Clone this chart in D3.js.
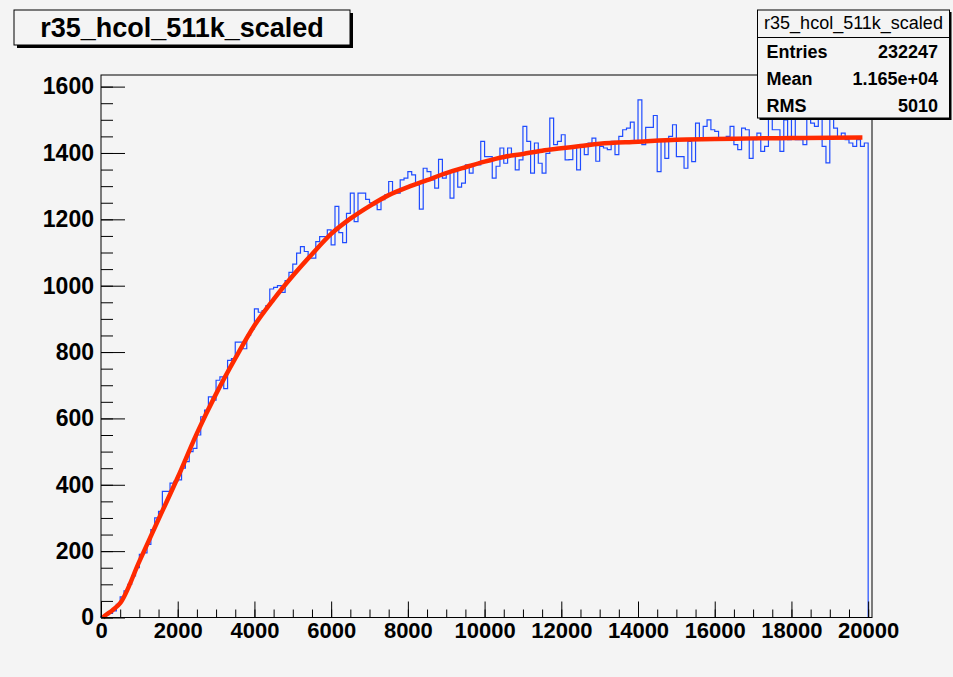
<!DOCTYPE html>
<html>
<head>
<meta charset="utf-8">
<script src="https://cdn.jsdelivr.net/npm/d3@7/dist/d3.min.js"></script>
<style>
  html, body { margin: 0; padding: 0; background: #f4f4f4; }
  svg { display: block; }
  text { font-family: "Liberation Sans", Arial, Helvetica, sans-serif; }
</style>
</head>
<body>
<svg id="chart" width="953" height="677"></svg>
<script>
// ---------------- data ----------------
const histTitle = "r35_hcol_511k_scaled";
const binLow = 0;
const binWidth = 100;
// bin contents (201 bins, 0..20100)
const counts = [
  3, 8, 12, 20, 40, 62, 80, 100, 125, 150,
  190, 195, 220, 265, 300, 320, 380, 380, 405, 410,
  415, 450, 470, 500, 510, 550, 605, 625, 665, 655,
  715, 725, 690, 775, 780, 830, 830, 810, 850, 870,
  930, 920, 925, 940, 990, 995, 1000, 980, 1015, 1040,
  1065, 1098, 1118, 1103, 1083, 1083, 1133, 1148, 1148, 1168,
  1123, 1239, 1160, 1130, 1218, 1279, 1193, 1279, 1279, 1260,
  1250, 1244, 1229, 1259, 1274, 1314, 1279, 1279, 1319, 1324,
  1344, 1334, 1304, 1231, 1354, 1344, 1319, 1294, 1381, 1324,
  1344, 1264, 1344, 1297, 1309, 1364, 1339, 1364, 1364, 1435,
  1389, 1389, 1324, 1360, 1415, 1369, 1415, 1390, 1349, 1379,
  1480, 1435, 1339, 1430, 1369, 1339, 1399, 1505, 1425, 1435,
  1455, 1379, 1380, 1420, 1349, 1425, 1395, 1430, 1445, 1375,
  1420, 1415, 1410, 1435, 1395, 1450, 1470, 1475, 1493, 1430,
  1560, 1425, 1477, 1477, 1513, 1344, 1440, 1384, 1450, 1485,
  1389, 1389, 1354, 1435, 1374, 1490, 1440, 1480, 1500, 1470,
  1465, 1445, 1440, 1450, 1480, 1425, 1410, 1475, 1470, 1384,
  1440, 1460, 1405, 1420, 1510, 1470, 1470, 1405, 1500, 1440,
  1510, 1440, 1440, 1425, 1515, 1490, 1480, 1510, 1420, 1370,
  1510, 1475, 1445, 1460, 1440, 1430, 1420, 1440, 1420, 1430,
  0
];
const fitX = [50, 100, 300, 500, 1000, 1500, 2000, 2500, 3000, 3500, 4000, 4500, 5000,
  5500, 6000, 6500, 7000, 7500, 8000, 8500, 9000, 9500, 10000, 10500, 11000, 11500,
  12000, 12500, 13000, 14000, 15000, 16000, 17000, 18000, 19000, 19850];
const fitY = [0, 5, 22, 43, 169, 296, 422, 555, 674, 781, 880, 959, 1030,
  1095, 1156, 1202, 1240, 1273, 1297, 1318, 1339, 1357, 1374, 1388, 1397, 1407,
  1414, 1421, 1428, 1434, 1440, 1442, 1444, 1445, 1446, 1447];
// axis ticks
const xTicks = [0, 2000, 4000, 6000, 8000, 10000, 12000, 14000, 16000, 18000, 20000];
const yTicks = [0, 200, 400, 600, 800, 1000, 1200, 1400, 1600];
// statistics box
const statLabels = ["Entries", "Mean", "RMS"];
const statValues = ["232247", "1.165e+04", "5010"];

// ---------------- layout ----------------
const svg = d3.select("#chart");
const W = 953, H = 677;
const frame = { left: 101, right: 872, top: 75, bottom: 617.5 };
const xMax = binLow + binWidth * counts.length;
const yMax = 1635;

const x = d3.scaleLinear().domain([binLow, xMax]).range([frame.left, frame.right]);
const y = d3.scaleLinear().domain([0, yMax]).range([frame.bottom, frame.top]);

const bg = "#f4f4f4";
svg.append("rect").attr("x", 0).attr("y", 0).attr("width", W).attr("height", H).attr("fill", bg);

// frame fill
svg.append("rect")
  .attr("x", frame.left).attr("y", frame.top)
  .attr("width", frame.right - frame.left).attr("height", frame.bottom - frame.top)
  .attr("fill", bg);

// histogram outline
const pts = [[binLow, 0]];
counts.forEach((c, i) => pts.push([binLow + i * binWidth, c]));
pts.push([xMax, 0]);
const stepLine = d3.line().x(d => x(d[0])).y(d => y(d[1])).curve(d3.curveStepAfter);
svg.append("path")
  .attr("d", stepLine(pts))
  .attr("fill", "none")
  .attr("stroke", "#1f4cff")
  .attr("stroke-width", 1.2);

// fit curve
const fitPts = fitX.map((v, i) => [v, fitY[i]]);
const fitLine = d3.line().x(d => x(d[0])).y(d => y(d[1])).curve(d3.curveMonotoneX);
svg.append("path")
  .attr("d", fitLine(fitPts))
  .attr("fill", "none")
  .attr("stroke", "#ff2a00")
  .attr("stroke-width", 4.5);

// axes
function styleAxis(g, size) {
  g.select(".domain").remove();
  g.selectAll(".tick line").attr("stroke", "#000").attr("stroke-width", 1);
  g.selectAll("text").attr("fill", "#000").attr("font-size", size).attr("font-weight", "bold")
    .attr("font-family", "Liberation Sans, Arial, sans-serif");
}
// y minor
svg.append("g").attr("transform", `translate(${frame.left},0)`)
  .call(d3.axisLeft(y).tickValues(d3.range(0, 1601, 50)).tickSize(-12).tickFormat(""))
  .call(styleAxis, 23);
// y major
svg.append("g").attr("transform", `translate(${frame.left},0)`)
  .call(d3.axisLeft(y).tickValues(yTicks).tickSize(-24).tickPadding(7).tickFormat(d3.format("d")))
  .call(styleAxis, 23);
// x minor
svg.append("g").attr("transform", `translate(0,${frame.bottom})`)
  .call(d3.axisBottom(x).tickValues(d3.range(0, 20001, 500)).tickSize(-8).tickFormat(""))
  .call(styleAxis, 22);
// x major
svg.append("g").attr("transform", `translate(0,${frame.bottom})`)
  .call(d3.axisBottom(x).tickValues(xTicks).tickSize(-16).tickPadding(5).tickFormat(d3.format("d")))
  .call(styleAxis, 22);

// frame border
svg.append("rect")
  .attr("x", frame.left).attr("y", frame.top)
  .attr("width", frame.right - frame.left).attr("height", frame.bottom - frame.top)
  .attr("fill", "none").attr("stroke", "#000").attr("stroke-width", 1);

// title box
const tb = { x: 14, y: 10, w: 336, h: 35 };
svg.append("rect").attr("x", tb.x + 3).attr("y", tb.y + 3).attr("width", tb.w).attr("height", tb.h).attr("fill", "#000");
svg.append("rect").attr("x", tb.x).attr("y", tb.y).attr("width", tb.w).attr("height", tb.h)
  .attr("fill", bg).attr("stroke", "#000").attr("stroke-width", 1);
svg.append("text").attr("x", tb.x + tb.w / 2).attr("y", 37)
  .attr("text-anchor", "middle").attr("font-size", 27).attr("font-weight", "bold")
  .text(histTitle);

// stats box
const sb = { x: 757.5, y: 10, w: 192, h: 108 };
svg.append("rect").attr("x", sb.x + 2).attr("y", sb.y + 2).attr("width", sb.w).attr("height", sb.h).attr("fill", "#000");
svg.append("rect").attr("x", sb.x).attr("y", sb.y).attr("width", sb.w).attr("height", sb.h)
  .attr("fill", bg).attr("stroke", "#000").attr("stroke-width", 1);
svg.append("line").attr("x1", sb.x).attr("x2", sb.x + sb.w).attr("y1", 37.5).attr("y2", 37.5)
  .attr("stroke", "#000").attr("stroke-width", 1);
svg.append("text").attr("x", sb.x + sb.w / 2).attr("y", 29)
  .attr("text-anchor", "middle").attr("font-size", 18)
  .text(histTitle);
const rowY = [58, 85, 112];
statLabels.forEach((lab, i) => {
  svg.append("text").attr("x", 766.5).attr("y", rowY[i]).attr("font-size", 18).attr("font-weight", "bold").text(lab);
  svg.append("text").attr("x", 938).attr("y", rowY[i]).attr("text-anchor", "end").attr("font-size", 18).attr("font-weight", "bold").text(statValues[i]);
});
</script>
</body>
</html>
